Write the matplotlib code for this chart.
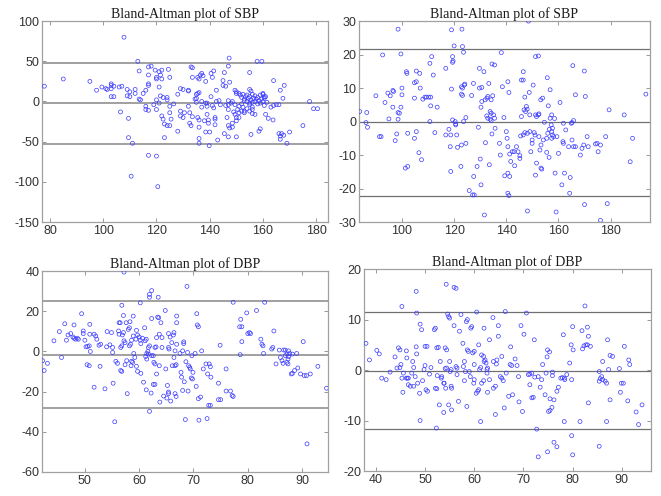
import numpy as np
import matplotlib
matplotlib.use("Agg")
import matplotlib.pyplot as plt

# (mean, difference) pairs, one list per panel
sbp_a = [(77.9,19),(85,28),(95,25),(97.5,14),(99.5,18),(101,16),(101.5,15),(103,22),(103,20),(103,16),
         (104,19),(103,6),(104,6),(106,18),(107,19),(106.5,-13),(107.8,80),(109,7),(109,15),(110,6),
         (110,12),(109.5,-21),(109.5,-45),(111,-52),(110.5,-93),(112,15),(112,10),(113,50),(113.5,38),(113.5,3),
         (114,2),(115,10),(116,14),(117,20),(117,22),(117,43),(118,44),(117,33),(116,-6),(117,-11),
         (116,-10),(117,-67),(119,-4),(119.5,39),(120,28),(120,30),(120,2),(120,-10),(120,-68),(120.5,-106),
         (121,-2),(121,37),(122,39),(121.5,33),(121,18),(121.5,7),(122.5,5),(122,28),(122,-18),(122.5,-22),
         (123,-28),(124,-30),(123,-45),(124,2),(124,5),(124.5,40),(125,30),(125,-6),(125,-14),(125.5,-22),
         (125,-30),(126.5,-3),(128,-37),(128,9),(129,-18),(129,-12),(130,15),(130,-20),(129,16),(130.5,-14),
         (132,13),(132,14),(132,-6),(132.5,-14),(132.5,-27),(133,-30),(133,43),(133.5,42),(133.5,30),(133.5,-19),
         (134.5,3),(135,4),(135,-1),(135,9),(135.5,10),(136,11),(135.5,30),(136,28),(135.5,-20),(136,-23),
         (136,-32),(136,-46),(136,-52),(136.5,33),(137,35),(137.5,32),(137,0),(137,-7),(138,-24),(138.5,25),
         (138.5,-38),(138.5,-2),(139,-2),(139,-6),(139,-16),(139.5,-23),(139.5,-27),(139.8,-55),(140,-38),(140.5,6),
         (140.5,35),(141,30),(141,-5),(141.5,-8),(141.5,38),(142,-20),(142,-22),(142.5,0),(142,-29),(143,-48),
         (142.5,14),(143.5,1),(144,-4),(145,26),(145,20),(145.5,36),(145.5,-40),(146,19),(146,-5),(147,-10),
         (147,-4),(147,1),(146.5,-20),(147,-30),(147.5,-33),(147,-44),(147.3,54),(147,44),(147.5,24),(148,-2),
         (148.5,0),(148.5,-27),(148.5,-32),(149.5,-4),(149.5,-16),(150,-20),(150,-24),(150,-44),(149.5,14),(150,12),
         (150,10),(151,10),(151.5,8),(152,5),(152.5,9),(153,3),(153.5,6),(154,0),(154,8),(154.5,4),
         (155,-2),(155,6),(155.5,2),(156,9),(156,-1),(156.5,4),(157,0),(157,7),(157.5,3),(158,-3),
         (158,5),(158.5,1),(159,8),(159,-2),(159.5,3),(160,0),(160,9),(160.5,4),(161,6),(161.5,-1),
         (152,-12),(153,-14),(154,-9),(155,-12),(156,-15),(153,1),(152,-3),(151,-20),(149,-13),(151,-6),
         (150.5,-10),(151,-14),(152.5,-7),(153,-12),(155,36),(155,15),(155.5,13),(155,-4),(156,-7),(156,-10),
         (155.5,-41),(157,-16),(157.8,50),(159.6,50),(158.5,-37),(159,-34),(160,10),(160.5,6),(160.5,-5),(161,-16),
         (162,-21),(164,26),(163.8,-23),(163,-7),(164,-5),(165,-4),(166,-4),(166,-40),(166.5,-43),(166.5,-47),
         (167,-40),(166.5,14),(167.5,4),(168,20),(167.8,-42),(169,-52),(170,-38),(175,-30),(177.5,0),(179,-9),
         (180.5,-9)]

sbp_b = [(83.8,3),(86.5,2.7),(86.2,-0.3),(86.8,-1.7),(90,7.7),(91.4,-4.5),(92,-4.5),(92.6,19.9),(93.5,5.7),(94.6,8.5),
         (95.5,7.7),(95,0.8),(96.5,9.3),(96.8,9),(96.5,4.3),(97.4,-5.7),(98,-3.7),(98.5,27.6),(98.5,2.7),(99,2.5),
         (98.5,0.7),(99.6,20.2),(100,10),(100,8),(99.6,4.3),(101.3,-13.9),(102.2,-13.4),(102.2,-3.5),(101.7,14.9),(101.9,14.4),
         (104.8,-5),(104.8,7),(104.8,11.6),(105.5,15.1),(105.5,11.9),(105.5,-3),(106.5,-9.3),(106.8,14.4),(107,10),(107.5,-11.4),
         (108,6.7),(108.8,7.3),(109.4,7.3),(110.3,7.3),(111,7.3),(110.7,17.4),(111,4.7),(110.7,0),(111.4,19.4),(112,13.9),
         (112.6,-3.3),(113.5,4.3),(116.8,15.9),(116.8,-4),(118,-2.3),(118.5,-7.5),(118.7,-4),(118.7,-14.9),(119,9.7),(119,27.4),
         (119.4,19.4),(119.6,18.1),(119.4,17.7),(119.4,0.5),(120,22.6),(120.4,0),(120.6,-1),(120.6,-0.7),(121,-4),(121.3,-7.7),
         (122.6,-13.4),(122.8,-7),(123,27.6),(123.2,22.4),(122.8,10.4),(123.2,10),(122.8,8.2),(123.2,7.8),(123.6,20.7),(123.9,10.9),
         (124.1,11.2),(123.6,0),(124.5,1.2),(124.5,-6.5),(125.8,-20.6),(126.7,7.8),(127.1,-21.9),(127.7,-21.9),(127.4,11.4),(127.5,-16.4),
         (128.8,-13.4),(129.3,-1.7),(129.7,15.9),(129.7,10),(130,-11.2),(130.3,-18.9),(130.3,4.3),(130.6,6),(130.6,10.2),(131.4,14.9),
         (131.6,-27.9),(132,-6.3),(131.9,6.5),(132.6,7),(132.9,7.5),(132.5,1.7),(132.9,1),(133.3,11.4),(133.5,-12.9),(133.8,3),
         (134.2,2.5),(133.8,0.7),(134.2,0.3),(134.2,6.5),(134.8,7.7),(134.5,-3.7),(134.5,17.2),(135.5,16.9),(135.1,2),(135.5,1),
         (135.7,-2),(137.4,-6.5),(137.7,-10),(138.1,20.6),(138.5,10.4),(139.1,1.2),(139.4,-16.2),(140,-3),(140.3,-5),(140.6,11.9),
         (140.6,-7.5),(141.3,-9.7),(140.6,-15.4),(141.3,-16.4),(141,8.7),(140.6,-21.4),(141,-22.1),(141.7,-11.9),(142.3,-9),(143,-9),
         (143.2,-13.2),(143.9,-7.5),(144.5,-9),(145.2,-10.2),(145.2,-11),(145.5,-4.3),(145.8,1.5),(145.8,12.4),(146.5,12.4),(146.5,14.9),
         (146.5,-4),(147.1,-3.3),(146.8,3.5),(147.4,3),(148,3.7),(147.1,7.3),(147.7,4.5),(148.1,-3.5),(149,-3),(148.1,-26.7),
         (148.5,30),(148.8,8.7),(149,2),(149.4,-9),(149.9,-6.5),(149.9,-5.5),(150.7,-3.3),(151,-4),(150.3,10.9),(151.2,19.4),
         (152.3,19.6),(151.2,2),(151.6,1.5),(152.3,2),(152.5,2.3),(151.6,-12.4),(151.2,-16),(152.5,-4.5),(152.9,-8.5),(153.3,-7),
         (153.2,6.5),(153.9,7),(153.3,-13.9),(153.6,-14.2),(154.2,-5.5),(154.6,-0.2),(155.5,-9.2),(155.5,-5),(155.7,13.1),(156.1,4.7),
         (155.9,-3.5),(156.5,-2.3),(156.4,-10.7),(156.8,9.5),(156.8,1),(157.2,-1),(157.7,-2),(157.4,-3),(157.7,-4),(158.1,-4.5),
         (157.4,-5),(157.4,2),(158.5,0.9),(158.7,-15.4),(159.1,-27),(159.4,-4.5),(160,-9.5),(160.6,5.7),(161.3,-18.9),(161.7,-6),
         (161.9,-6.5),(161.9,-0.5),(162.3,-15.4),(162.8,-2.5),(163.9,-7.5),(164.3,-21.4),(164.5,-16.7),(164.9,-0.5),(165.2,-0.3),(165.8,0.3),
         (165.2,-5.5),(165.8,-7.5),(166.5,-7.5),(165.5,16.7),(166.5,8),(168.4,-10),(169,-8),(169.7,-7),(169.9,15.1),(170,-24.8),
         (170.3,7.5),(171,-4.5),(171.4,-7.5),(174.2,-6.7),(174.8,-6.5),(175.2,-9),(176.1,-7),(176.1,-29.5),(178.1,-4.5),(178.7,-24.5),
         (179.4,3.5),(185.2,2),(187.5,-12),(188.4,-5),(193.5,8.2)]

dbp_a = [(42.2,-4.6),(42.5,-9.5),(43.1,-5.9),(44.3,5.3),(45.3,9.9),(45.7,-3),(46.3,13.8),(46.6,5.6),(46.9,8.2),(47.4,8.9),
         (47.8,7.2),(48,6.6),(48.3,6.1),(48.6,6.6),(48.8,6.1),(48,13.2),(49.4,18.8),(49.7,10.2),(49.7,8.9),(50,5.6),
         (50.2,2.3),(50.5,2.5),(50.8,2.8),(50.4,-6.6),(50.8,-7.1),(50.9,13.5),(50.9,8.6),(51,0),(51.7,8.6),(52,7.7),
         (52.2,6.1),(51.7,-17.8),(52.6,3.1),(52.9,3.6),(52.8,-7.4),(53.7,-18.6),(54,2.3),(54.1,9.9),(54.9,9.4),(54.6,3.3),
         (55.1,2),(55.1,-0.5),(55.2,-15.8),(55.5,-35),(55.7,-4.9),(56,-5.9),(56.2,10.2),(56.3,8.6),(56.3,14.3),(56.5,14.3),
         (56.6,2),(56.8,2.8),(56.6,-9.5),(56.8,-9.9),(56.8,23),(56.9,8.2),(57.1,9.4),(57.2,5.3),(57.4,4.4),(57.1,17.9),
         (57.2,39.5),(57.4,-6.6),(57.6,14.3),(57.7,-4.6),(57.8,-21),(58,11),(58.2,11.8),(58.2,2.8),(58.4,3.6),(58.3,14.8),
         (58.5,-7.1),(58.6,-4.9),(58.8,-5.4),(58.6,5.6),(58.9,7.7),(58.9,17.6),(59,-1),(59.2,-3),(59.4,6.1),(59.5,10.5),
         (59.5,-7.4),(59.7,-9.9),(59.7,8.2),(60,7.2),(60.2,5.6),(60.2,24.2),(60.3,3.9),(60.3,-10.9),(60.6,6.6),(60.8,-15.3),
         (61,11.8),(61.1,5.3),(61.3,6.1),(61.2,-2.5),(61.4,-1),(61.4,-3.8),(61.3,-19.1),(61.6,0),(61.7,2),(61.9,2.8),
         (61.7,-1.3),(61.9,28.4),(61.9,27),(61.9,-29.8),(62.3,30.3),(62.3,16.4),(62.3,-2.1),(62.6,-2.1),(62.2,-20.7),(62.6,-16.4),
         (62.9,-16.4),(62.7,-5.4),(62.9,-6.2),(62.9,2),(63.1,2.3),(63.2,6.9),(63.2,-11.2),(63.4,17.1),(63.6,16.8),(63.5,27),
         (63.7,8.6),(63.7,-7.1),(63.8,-25.2),(64,14.3),(64.2,2),(64.2,6.9),(64.5,-22.2),(64.8,20.4),(64.9,-8.7),(65.1,-23.2),
         (65.2,-16.9),(65.4,-20.2),(65.4,-21),(65.4,2),(65.5,1.2),(65.4,8.9),(65.7,7.2),(65.8,-24.7),(66,4.4),(66.1,-7.1),
         (66.3,8.2),(66.4,9.4),(66.4,-3),(66.6,0.3),(66.6,-7.1),(66.8,-6.6),(66.6,-21),(66.8,-22.4),(66.9,14.3),(66.9,17.6),
         (66.9,3.6),(67.5,-1),(67.7,-10.4),(67.8,-12.8),(68,0.3),(68,-19.4),(68.2,4.8),(68.2,3.9),(68.3,-15.1),(68.5,-33.9),
         (68.6,-5.1),(68.8,32.4),(68.9,-0.5),(69,-19.7),(69.1,-7.1),(69.3,-7.9),(69.4,-8.7),(69.6,-13.2),(69.8,-13.7),(69.7,-2.1),
         (69.9,-10.4),(70.3,-1),(70.5,-17.4),(70.6,18.8),(70.7,13.2),(70.9,12.3),(70.9,-23.5),(71,-34.2),(71.3,-22.7),(71.5,0.3),
         (71.8,-8.7),(72.3,-6.2),(72.9,-6.2),(72.5,-33.4),(72.6,-11.2),(72.8,-26.8),(73.1,-26.8),(73.1,-7.6),(73.2,-12.8),(74.6,-15.8),
         (74.6,-24),(75,-24),(74.9,3.1),(76,-8.7),(76,-19.7),(76.8,-19.7),(77.1,-21.9),(77.3,-22.4),(77.3,24.5),(78.5,12.3),
         (78.9,12.3),(78.6,-1.6),(78.7,16),(78.9,4.9),(79.8,19.2),(80,8.9),(80.3,9.4),(80.5,8.9),(81.6,20.4),(82.4,6.1),
         (82.6,3.6),(82.8,2.8),(82.9,-1),(83.1,24.5),(84.8,10.2),(84.4,1.2),(84.6,2),(85.2,-6.2),(85.8,0.7),(86,-3),
         (86.3,-4.6),(86.5,-5.9),(86.6,0.7),(86.9,0.7),(86.9,-2.1),(87.2,-1.3),(87.4,-3.8),(87.5,-2.6),(87.5,0.3),(87.7,-1),
         (87.2,-5.4),(87.4,-6.2),(88,-11.2),(88.2,-10.9),(88.6,-9.5),(88.2,-1.3),(89,-1),(89.2,-8.2),(89.7,-11.2),(90.4,-12),
         (90.8,-12),(90.2,4.9),(90.9,-46),(91.5,-11.2),(92.9,-7.4),(94.5,-18.3)]

dbp_b = [(38,5.3),(38.7,2),(40.2,3.9),(40.7,3.2),(41.2,-1.6),(42.1,-1.9),(42.9,-0.4),(43.9,2.6),(44.3,0.4),(44.9,0.5),
         (44.6,4.4),(44.9,4),(45.1,1.1),(45.3,12.6),(45.3,-1.6),(45.6,-0.6),(45.5,-4.4),(46.2,3.8),(46.3,2.4),(46.2,-1.6),
         (46.4,-1.6),(46.6,-1.6),(46.6,-2.9),(47,-3.2),(47.3,-0.6),(47.5,1.7),(47.7,0.5),(47.7,-3.2),(48,-1.3),(48.2,4.6),
         (48.3,3.2),(48.2,15.6),(48.3,11.3),(48.5,-2.6),(48.9,-4.6),(49,-10),(49,9.1),(49.3,8),(49.5,-2.1),(49.8,0.1),
         (50,0.9),(50,4.7),(50.4,4.7),(50.2,-3.9),(50.5,-4.2),(50.9,-0.8),(51.2,0.5),(51.9,8),(52.1,8.3),(52.1,-3.6),
         (52.4,-3.7),(52.3,-11.5),(52.4,4.4),(52.7,4.5),(52.5,-1.1),(52.9,-6.9),(53.1,1.7),(53.3,-1.6),(53.4,-1.3),(53.8,-2.6),
         (53.9,-2.6),(53.8,-8.4),(54.1,4.4),(54.4,4),(54.1,0.3),(54.4,0.4),(54.2,-3.6),(54.3,17),(54.6,11.1),(54.8,10.6),
         (55,10.3),(54.8,-6.9),(55,1.7),(55.1,-0.3),(55.3,0.1),(55.3,-3.2),(55.4,-3.6),(55.4,-7.9),(55.9,8.8),(55.9,16.4),
         (56.3,16.2),(56.3,0.7),(56.5,0.4),(56.5,-0.9),(56.8,-6.2),(57,7.7),(57.7,5.3),(57.3,11),(57.8,0.7),(58.2,-0.3),
         (58,1.7),(58,-2.1),(58.4,9.6),(58.6,10),(58.5,-7.2),(58.6,4),(58.8,3.7),(59,-0.3),(59.2,-1.3),(59.3,8.3),
         (59.5,8.6),(59.7,3.4),(60,3.7),(59.9,-2.6),(60,-1.9),(60,1.1),(60.4,-4.6),(60.7,-4.2),(60.9,-3.9),(60.5,11.5),
         (60.9,5),(61.1,0.1),(61.3,0.5),(61.3,-10.2),(61.5,3),(61.9,2.7),(61.5,-2.6),(61.9,-2.1),(62,8.3),(62,1.7),
         (62.2,2),(62.4,1.4),(62.6,0.1),(62.7,0.4),(62.6,-0.6),(62.7,-4.4),(63.1,6),(63.1,-1.9),(63.8,10.4),(63.9,1.7),
         (63.9,-3.6),(64.3,-3.2),(64.3,-8.8),(64.5,1.2),(64.6,2),(64.9,6.7),(64.9,8.8),(65.3,-1.3),(65.6,-1.6),(65.6,2.7),
         (65.9,-2.1),(66.1,-7.5),(66.3,11.6),(66.5,-0.6),(67,-5.2),(67.3,1.1),(67.6,0.9),(67.4,4.6),(67.8,-4.9),(68.3,2.2),
         (68.7,0.9),(69,-1.3),(69.1,-6.3),(69.5,8.8),(69.8,-8.2),(70.1,7.1),(70.6,11.3),(71,-0.9),(71.3,-0.8),(71.7,-0.6),
         (71.3,-2.9),(71.7,-5.5),(72,-5.4),(72.2,6),(72.3,-1.4),(73,-1.3),(73.4,-3.4),(73.7,-1.9),(73.9,1.1),(74.4,-4.9),
         (74.6,-0.6),(74.8,2.6),(74.9,4),(75.1,-8.2),(75.4,-8),(75.3,3.6),(75.4,-5.7),(75.9,-0.4),(75.9,-1.1),(75.8,-7.4),
         (76.2,-5.9),(76.8,-4.2),(77.1,-3.4),(77.6,-1.6),(77.9,-1.5),(78.3,-1.6),(78.1,7),(78.3,-10.2),(78.4,-1.9),(78.8,-0.9),
         (79.4,1.4),(79.7,5),(80,8.6),(79.8,-1.9),(80.1,4),(81.5,-10.2),(81.9,7.8),(82,4.2),(82.3,4.8),(82.7,5),
         (83,5),(82.5,12.7),(83,8.5),(83.2,6.7),(83.2,-6.5),(83.6,4.7),(80,-16.8),(79.8,-13),(76.2,-14.3),(76.8,-15.2),
         (74.9,-16.2),(73,-17.2),(72.7,-11.7),(85.4,-0.3),(85.4,-2.2),(85.6,-1.7),(85.9,-1.3),(86.1,-1.9),(86.1,1.7),(85.4,-15.1),
         (86.6,-2.2),(86.9,-2.6),(86.9,-10.2),(87.1,6),(87.3,0.1),(87.6,-5.9),(87.6,2.9),(88.1,2.7),(89.5,0.3),(89.7,-4.4),
         (89.9,-2.6),(90.3,-2.6),(90.5,4.7),(91.2,-6.1),(91.4,2),(91.6,1.1),(92.9,-8.3),(93.4,-10.8),(94.1,-6.9)]

# mean line and limits of agreement per panel (upper, mean, lower)
sbp_a_lines = [48.5, -2, -52.5]
sbp_b_lines = [21.6, -0.2, -22.1]
dbp_a_lines = [25, -1.7, -28.3]
dbp_b_lines = [11.6, -0.1, -11.7]

titles = ["Bland-Altman plot of SBP", "Bland-Altman plot of SBP",
          "Bland-Altman plot of DBP", "Bland-Altman plot of DBP"]

plt.rcParams["axes.unicode_minus"] = False
plt.rcParams["font.family"] = "Liberation Sans"

fig = plt.figure(figsize=(6.61, 4.96), dpi=100)

panels = [
    # data, lines, axes rect, xlim, ylim, xticks, yticks, line colour / width
    (sbp_a, sbp_a_lines, [0.0635, 0.5524, 0.433, 0.405], (77, 184.5), (-150, 100),
     np.arange(80, 181, 20), np.arange(-150, 101, 50), "#a0a0a0", 1.4),
    (sbp_b, sbp_b_lines, [0.543, 0.5524, 0.440, 0.405], (83.5, 195), (-30, 30),
     np.arange(100, 181, 20), np.arange(-30, 31, 10), "#707070", 0.9),
    (dbp_a, dbp_a_lines, [0.0635, 0.0484, 0.433, 0.405], (42.1, 94.8), (-60, 40),
     np.arange(50, 91, 10), np.arange(-60, 41, 20), "#a0a0a0", 1.4),
    (dbp_b, dbp_b_lines, [0.5507, 0.0504, 0.434, 0.407], (37.6, 95.9), (-20, 20),
     np.arange(40, 91, 10), np.arange(-20, 21, 10), "#707070", 0.9),
]

for i, (pts, lines, rect, xl, yl, xt, yt, lc, lw) in enumerate(panels):
    ax = fig.add_axes(rect)
    x = [p[0] for p in pts]
    y = [p[1] for p in pts]
    ax.scatter(x, y, s=8, facecolors="none", edgecolors="#3a3aff", linewidths=0.5, zorder=3)
    for v in lines:
        ax.axhline(v, color=lc, lw=lw, zorder=2)
    ax.set_xlim(*xl)
    ax.set_ylim(*yl)
    ax.set_xticks(xt)
    ax.set_yticks(yt)
    ax.tick_params(direction="in", length=3, width=0.6, colors="#888888",
                   labelcolor="#333333", labelsize=9, top=True, right=True, pad=2)
    for sp in ax.spines.values():
        sp.set_color("#a0a0a0")
        sp.set_linewidth(0.9)
    ax.set_title(titles[i], fontsize=10, family="Liberation Serif", color="#1a1a1a", pad=2)

fig.savefig("out.png", dpi=100)
